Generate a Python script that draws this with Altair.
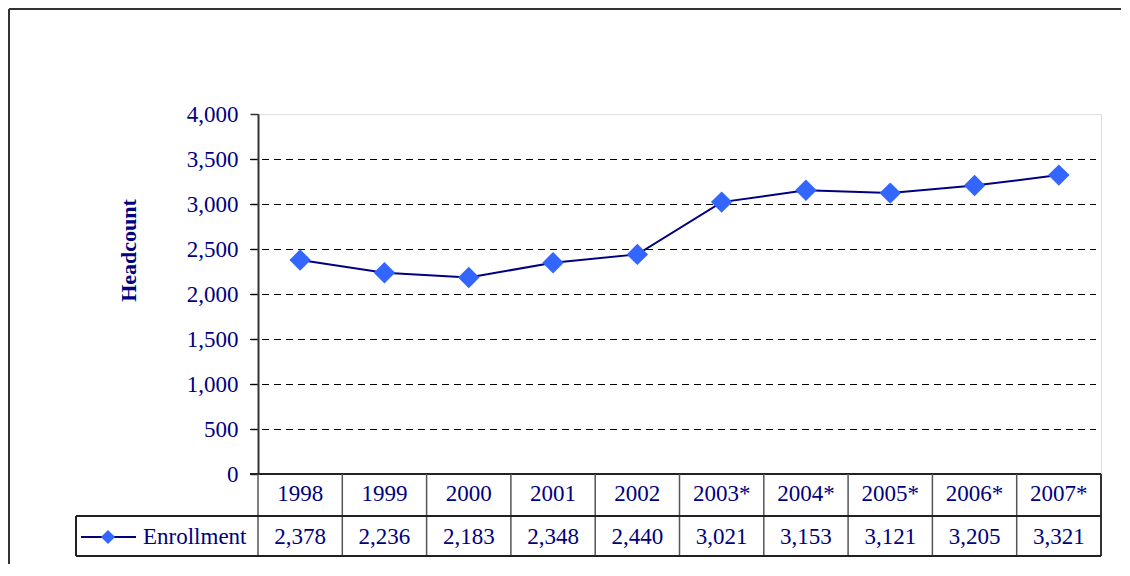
import altair as alt
import pandas as pd

years = ["1998", "1999", "2000", "2001", "2002", "2003*", "2004*", "2005*", "2006*", "2007*"]
enrollment = [2378, 2236, 2183, 2348, 2440, 3021, 3153, 3121, 3205, 3321]
y_ticks = [0, 500, 1000, 1500, 2000, 2500, 3000, 3500, 4000]
grid_values = [500, 1000, 1500, 2000, 2500, 3000, 3500]
series_name = "Enrollment"

df = pd.DataFrame({"year": years, "enrollment": enrollment})
df["label"] = [f"{v:,}" for v in enrollment]
grid_df = pd.DataFrame({"g": grid_values})

W, H = 843, 360
NAVY = "#000080"
FONT = "Liberation Serif"
FS = 23

xenc = alt.X("year:N", sort=years, axis=None, scale=alt.Scale(paddingInner=0, paddingOuter=0))
yscale = alt.Scale(domain=[0, 4000], nice=False)

base = alt.Chart(df)

# axis
axis_layer = base.mark_rule(opacity=0).encode(
    y=alt.Y(
        "enrollment:Q",
        scale=yscale,
        axis=alt.Axis(
            values=y_ticks, format=",.0f", title="Headcount",
            grid=False,
            domainColor="#333333", domainWidth=2,
            tickColor="#333333", tickSize=8, tickWidth=1.5,
            labelFont=FONT, labelFontSize=FS, labelColor=NAVY, labelPadding=12,
            titleFont=FONT, titleFontSize=22, titleColor=NAVY, titleFontWeight="bold",
            titleX=-130, titleY=136, titleAngle=-90, titleBaseline="middle", titleAlign="center",
        ),
    )
)

grid = alt.Chart(grid_df).mark_rule(color="#000000", strokeWidth=1, strokeDash=[7, 5], yOffset=0.5).encode(
    y=alt.Y("g:Q", scale=yscale), x=alt.value(-8), x2=alt.value(W - 5)
)

# bottom axis line
bottom_line = base.mark_rule(color="#222222", strokeWidth=2).encode(
    x=alt.value(-8), x2=alt.value(W), y=alt.value(H)
)

line = base.mark_line(color=NAVY, strokeWidth=2).encode(
    x=xenc, y=alt.Y("enrollment:Q", scale=yscale)
)
points = base.mark_point(shape="diamond", filled=True, size=460, color="#3366FF", opacity=1).encode(
    x=xenc, y=alt.Y("enrollment:Q", scale=yscale)
)

# table
cat_text = base.mark_text(font=FONT, fontSize=FS, color=NAVY, baseline="middle").encode(
    x=xenc, y=alt.value(H + 20), text="year:N"
)
val_text = base.mark_text(font=FONT, fontSize=FS, color=NAVY, baseline="middle").encode(
    x=xenc, y=alt.value(H + 63), text="label:N"
)
separators = base.mark_rule(color="#555555", strokeWidth=1.5).encode(
    x=alt.X("year:N", sort=years, axis=None, bandPosition=0, scale=alt.Scale(paddingInner=0, paddingOuter=0)),
    y=alt.value(H), y2=alt.value(H + 82),
)
right_edge = base.mark_rule(color="#333333", strokeWidth=1.5).encode(
    x=alt.value(W), y=alt.value(H), y2=alt.value(H + 82)
)
mid_line = base.mark_rule(color="#222222", strokeWidth=1.5).encode(
    x=alt.value(-182), x2=alt.value(W), y=alt.value(H + 42)
)
bot_line = base.mark_rule(color="#222222", strokeWidth=1.5).encode(
    x=alt.value(-182), x2=alt.value(W), y=alt.value(H + 82)
)
left_edge = base.mark_rule(color="#222222", strokeWidth=1.5).encode(
    x=alt.value(-182), y=alt.value(H + 42), y2=alt.value(H + 82)
)
leg_line = base.mark_rule(color=NAVY, strokeWidth=2).encode(
    x=alt.value(-177), x2=alt.value(-122), y=alt.value(H + 63)
)
leg_df = pd.DataFrame({"name": [series_name]})
leg_pt = alt.Chart(leg_df).mark_point(shape="diamond", filled=True, size=200, color="#3366FF", opacity=1).encode(
    x=alt.value(-150), y=alt.value(H + 63)
)
leg_text = alt.Chart(leg_df).mark_text(font=FONT, fontSize=FS, color=NAVY, align="left", baseline="middle").encode(
    x=alt.value(-115), y=alt.value(H + 63), text="name:N"
)

# outer frame (left and top edges)
frame_left = base.mark_rule(color="#333333", strokeWidth=1.5).encode(
    x=alt.value(-249), y=alt.value(-105), y2=alt.value(H + 200)
)
frame_top = base.mark_rule(color="#333333", strokeWidth=1.5).encode(
    x=alt.value(-249), x2=alt.value(W + 20), y=alt.value(-105)
)

chart = alt.layer(
    axis_layer, grid, frame_left, frame_top, bottom_line, line, points,
    cat_text, val_text, separators, right_edge, mid_line, bot_line, left_edge,
    leg_line, leg_pt, leg_text,
).properties(
    width=W, height=H,
    autosize=alt.AutoSizeParams(type="none"),
    padding={"left": 250, "top": 106, "right": 20, "bottom": 90},
).configure_view(
    stroke="#999999", strokeWidth=2
).configure(background="white")

chart.save("out.html", embed_options={"renderer": "svg", "actions": False})
